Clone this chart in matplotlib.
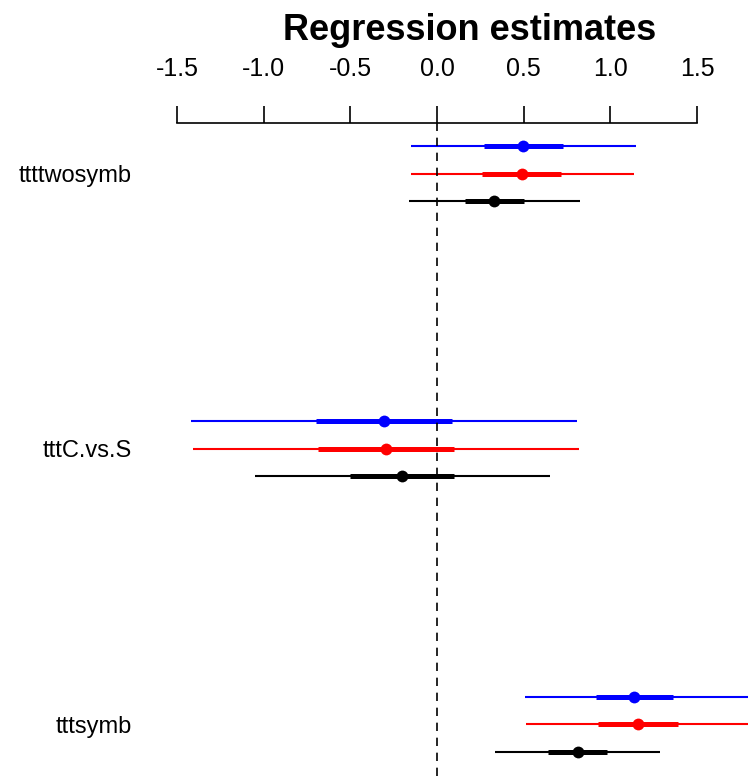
import matplotlib.pyplot as plt
import numpy as np

plt.rcParams['font.family'] = ['Liberation Sans', 'DejaVu Sans']

names = ['ttttwosymb', 'tttC.vs.S', 'tttsymb']

# blue model
blue_est = [0.498, -0.306, 1.137]
blue_lo1 = [0.271, -0.698, 0.917]
blue_hi1 = [0.727, 0.085, 1.364]
blue_lo2 = [-0.152, -1.421, 0.508]
blue_hi2 = [1.148, 0.810, 1.80]

# red model
red_est = [0.489, -0.294, 1.158]
red_lo1 = [0.258, -0.685, 0.931]
red_hi1 = [0.716, 0.098, 1.389]
red_lo2 = [-0.152, -1.406, 0.512]
red_hi2 = [1.137, 0.817, 1.81]

# black model
black_est = [0.331, -0.200, 0.812]
black_lo1 = [0.162, -0.502, 0.642]
black_hi1 = [0.504, 0.098, 0.979]
black_lo2 = [-0.160, -1.050, 0.335]
black_hi2 = [0.825, 0.652, 1.287]

ticks = [-1.5, -1.0, -0.5, 0.0, 0.5, 1.0, 1.5]

fig = plt.figure(figsize=(7.48, 7.76), dpi=100)
W, H = 748, 776
ax = fig.add_axes([150 / W, 0, 1 - 150 / W, 1 - 123 / H])

pos = np.arange(len(names))
models = [
    ('blue', -0.1, blue_est, blue_lo1, blue_hi1, blue_lo2, blue_hi2),
    ('red', 0.0, red_est, red_lo1, red_hi1, red_lo2, red_hi2),
    ('black', 0.1, black_est, black_lo1, black_hi1, black_lo2, black_hi2),
]
for col, off, est, lo1, hi1, lo2, hi2 in models:
    y = pos + off
    ax.hlines(y, lo2, hi2, color=col, lw=1.5)
    ax.hlines(y, lo1, hi1, color=col, lw=3.6)
    ax.plot(est, y, 'o', color=col, ms=8.5, mew=0)

ax.axvline(0, color='black', lw=1.2, ls=(0, (5, 4)))

ax.set_xlim(-1.5 - 27 / 173.3, 1.5 + 51 / 173.3)
ax.set_ylim(2.189, -0.185)

ax.xaxis.tick_top()
ax.set_xticks(ticks)
ax.set_xticklabels(['%.1f' % t for t in ticks], fontsize=18)
ax.tick_params(axis='x', direction='out', length=12, width=1.2, pad=18)
ax.set_yticks(pos)
ax.set_yticklabels(names, fontsize=17)
ax.tick_params(axis='y', length=0, pad=13)

for s in ['left', 'right', 'bottom']:
    ax.spines[s].set_visible(False)
ax.spines['top'].set_bounds(-1.5, 1.5)
ax.spines['top'].set_linewidth(1.2)

fig.text(470 / W, 1 - 31 / H, 'Regression estimates', fontsize=26,
         fontweight='bold', ha='center', va='center')

fig.savefig('out.png', dpi=100)
